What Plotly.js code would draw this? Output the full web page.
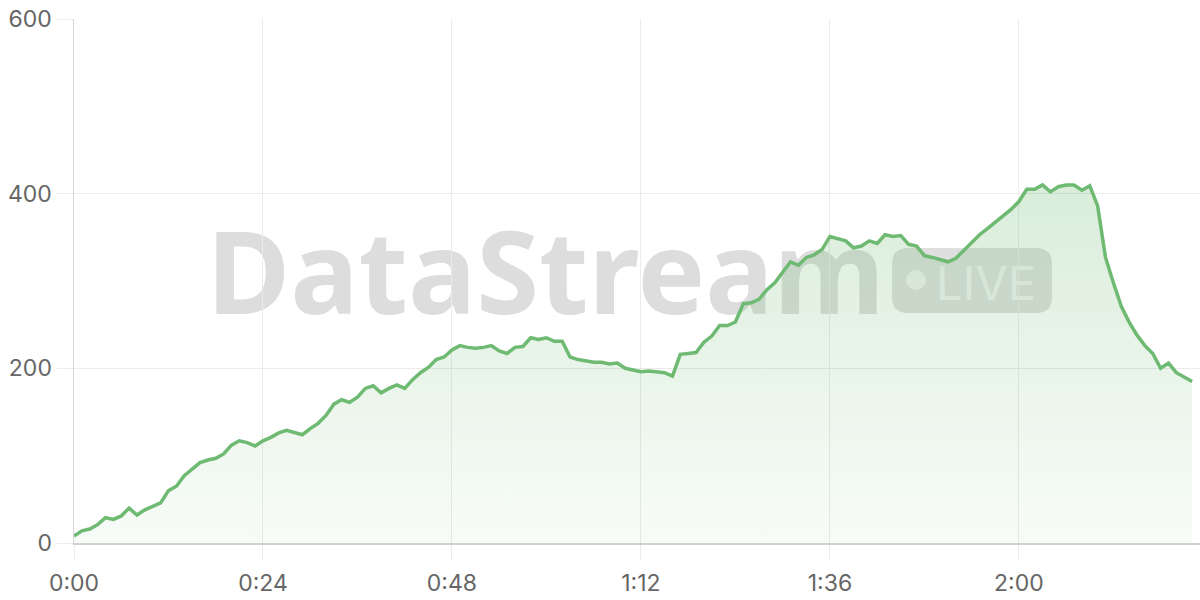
<!DOCTYPE html>
<html>
<head>
<meta charset="utf-8">
<script src="https://cdn.plot.ly/plotly-3.0.1.min.js"></script>
<style>html,body{margin:0;padding:0;background:#fff;}#chart{width:1200px;height:600px;}</style>
</head>
<body>
<div id="chart"></div>
<script>
// Values per minute (0:00 .. 2:22)
const values = [8,14,16,21,29,27,31,40,32,38,42,46,60,65,77,84,92,95,97,102,112,117,115,111,117,121,126,129,126,124,131,137,146,159,164,161,167,177,180,172,177,181,177,187,195,201,210,213,221,
226,224,223,224,226,220,217,224,225,235,233,235,231,231,213,210,208,207,207,205,206,200,198,196,197,196,195,191,216,217,218,230,237,249,249,253,274,275,279,290,298,310,322,318,327,330,336,
351,349,346,338,340,346,343,353,351,352,342,340,329,327,324,322,326,335,344,353,360,367,375,382,391,405,405,410,402,408,410,410,404,409,386,327,298,271,253,238,226,217,200,206,195,190,185];
const minutes = values.map((v, i) => i);
const xTickVals = [0, 24, 48, 72, 96, 120];
const xTickText = ["0:00", "0:24", "0:48", "1:12", "1:36", "2:00"];
const yTickVals = [0, 200, 400, 600];
const watermarkText = "DataStream";
const badgeText = "LIVE";

const trace = {
  x: minutes,
  y: values,
  type: "scatter",
  mode: "lines",
  line: {color: "#6fba72", width: 3.5},
  fill: "tozeroy",
  fillgradient: {
    type: "vertical",
    start: 0,
    stop: 410,
    colorscale: [[0, "rgba(111,186,114,0.05)"], [1, "rgba(111,186,114,0.26)"]]
  },
  hoverinfo: "skip"
};

const gridC = "#ebebeb";
const tickFont = {family: "Inter, 'Noto Sans', sans-serif", size: 23, color: "#666"};

const layout = {
  width: 1200, height: 600,
  margin: {l: 74, r: 0, t: 19, b: 57},
  paper_bgcolor: "#fff", plot_bgcolor: "#fff",
  showlegend: false,
  xaxis: {
    range: [0, 143],
    tickvals: xTickVals, ticktext: xTickText,
    showgrid: true, gridcolor: gridC, gridwidth: 1,
    ticks: "outside", ticklen: 15, tickcolor: gridC, tickwidth: 1,
    showline: true, linecolor: "#d0d0d0", linewidth: 1.5,
    zeroline: false, tickfont: tickFont, ticklabelstandoff: 4
  },
  yaxis: {
    range: [0, 600],
    tickvals: yTickVals,
    showgrid: true, gridcolor: gridC, gridwidth: 1,
    ticks: "outside", ticklen: 16, tickcolor: gridC, tickwidth: 1,
    showline: true, linecolor: "#d6d6d6", linewidth: 1.5,
    zeroline: false, tickfont: tickFont
  },
  shapes: [
    {
      type: "rect", layer: "between", xref: "paper", yref: "paper",
      x0: 0.104, x1: 0.734, y0: 0.3873, y1: 0.6273,
      line: {width: 0}, fillcolor: "rgba(0,0,0,0)",
      label: {
        text: watermarkText, textposition: "middle center",
        font: {family: "'Noto Sans', 'DejaVu Sans', sans-serif", size: 114, weight: 700, color: "rgba(150,150,150,0.32)"}
      }
    },
    {
      type: "path", layer: "between", xref: "paper", yref: "paper",
      xsizemode: "pixel", ysizemode: "pixel",
      xanchor: 0.7265, yanchor: 0.439,
      path: "M16,0 L144,0 Q160,0 160,16 L160,49 Q160,65 144,65 L16,65 Q0,65 0,49 L0,16 Q0,0 16,0 Z",
      line: {width: 0}, fillcolor: "rgba(130,130,130,0.26)"
    },
    {
      type: "circle", layer: "between", xref: "paper", yref: "paper",
      xsizemode: "pixel", ysizemode: "pixel",
      xanchor: 0.7478, yanchor: 0.5019,
      x0: -10, x1: 10, y0: -10, y1: 10,
      line: {width: 0}, fillcolor: "rgba(255,255,255,0.6)"
    },
    {
      type: "rect", layer: "between", xref: "paper", yref: "paper",
      x0: 0.77, x1: 0.85, y0: 0.44, y1: 0.56,
      line: {width: 0}, fillcolor: "rgba(0,0,0,0)",
      label: {
        text: badgeText, textposition: "middle center",
        font: {family: "Inter, 'Noto Sans', sans-serif", size: 47, color: "rgba(255,255,255,0.62)"}
      }
    }
  ]
};

Plotly.newPlot("chart", [trace], layout, {displayModeBar: false, staticPlot: true});
</script>
</body>
</html>
